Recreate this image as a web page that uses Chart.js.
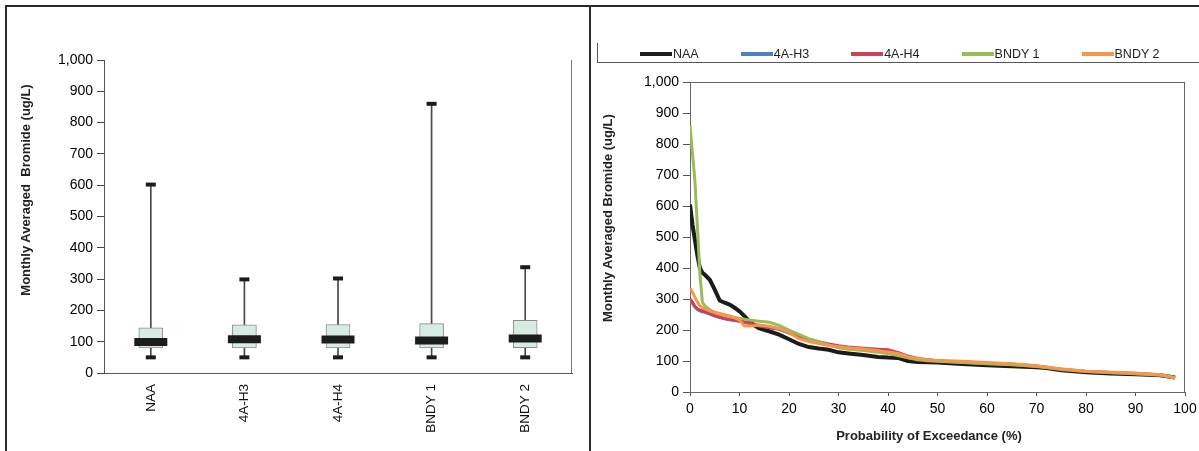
<!DOCTYPE html>
<html>
<head>
<meta charset="utf-8">
<title>Monthly Averaged Bromide</title>
<script src="https://cdn.jsdelivr.net/npm/chart.js@4.4.0/dist/chart.umd.min.js"></script>
<style>
  body { margin: 0; background: #fff; font-family: "Liberation Sans", Arial, sans-serif; }
  #wrap { position: relative; width: 1199px; height: 451px; overflow: hidden; background: #fff; }
  canvas { position: absolute; top: 0; }
  #boxChart { left: 0; }
  #curveChart { left: 592px; }
  .rule { position: absolute; background: #2a2a2a; }
  .title { position: absolute; font-weight: bold; font-size: 13px; color: #222; white-space: pre; }
  .rot { transform: translate(-50%, -50%) rotate(-90deg); }
  .flat { transform: translate(-50%, -50%); }
  #legendFrame { position: absolute; left: 597px; top: 43px; width: 610px; height: 19px;
                 border-left: 1px solid #555; border-bottom: 1px solid #555; }
  #legend { position: absolute; left: 640px; top: 47px; display: flex; gap: 42px; font-size: 12.5px; color: #222; }
  #legend .item { display: flex; align-items: center; }
  #legend .swatch { width: 32px; height: 4px; margin-right: 1px; }
</style>
</head>
<body>
<div id="wrap">
  <canvas id="boxChart" width="588" height="451"></canvas>
  <canvas id="curveChart" width="607" height="451"></canvas>

  <div class="rule" style="left:5px; top:5px; width:1194px; height:2px;"></div>
  <div class="rule" style="left:5px; top:5px; width:2px; height:446px;"></div>
  <div class="rule" style="left:589px; top:5px; width:2px; height:446px;"></div>

  <div class="title rot" style="left:25px; top:190px;">Monthly Averaged  Bromide (ug/L)</div>
  <div class="title rot" style="left:607px; top:218px;">Monthly Averaged Bromide (ug/L)</div>
  <div class="title flat" style="left:929px; top:435px;">Probability of Exceedance (%)</div>

  <div id="legendFrame"></div>
  <div id="legend"></div>
</div>

<script>
// box plot summary per station (ug/L)
const stations = ['NAA', '4A-H3', '4A-H4', 'BNDY 1', 'BNDY 2'];
const boxMin = [50, 50, 50, 50, 50];
const boxQ1 = [80, 80, 80, 80, 81];
const boxMedian = [99, 108, 107, 104, 110];
const boxQ3 = [144, 154, 155, 158, 168];
const boxMax = [602, 299, 302, 860, 338];

// exceedance curves: probability (%) and monthly averaged bromide per station
const exceedance = [0, 0.5, 1, 1.5, 2, 2.5, 3, 4, 5, 6, 7, 8, 9, 10, 11, 12, 13, 14, 16, 18,
  20, 22, 24, 26, 28, 30, 32, 35, 38, 40, 42, 44, 46, 48, 50, 55, 60, 65, 70, 72, 75, 80, 85, 90, 95, 98];
const naa = [605, 540, 490, 440, 400, 385, 378, 362, 330, 295, 288, 282, 272, 260, 245, 228, 215, 205, 196, 185,
  170, 155, 145, 140, 136, 128, 124, 119, 113, 111, 110, 100, 97, 96, 95, 90, 86, 83, 80, 77, 70, 64, 60, 57, 54, 47];
const h3 = [298, 286, 274, 266, 262, 259, 257, 251, 245, 240, 236, 233, 231, 228, 225, 221, 217, 213, 207, 202,
  190, 177, 168, 160, 153, 147, 143, 139, 135, 133, 126, 114, 106, 103, 100, 96, 92, 89, 83, 79, 72, 66, 62, 59, 54, 46];
const h4 = [300, 290, 276, 268, 264, 262, 260, 253, 247, 242, 237, 234, 232, 229, 226, 222, 218, 215, 208, 204,
  192, 180, 170, 162, 155, 149, 145, 141, 138, 136, 128, 116, 108, 104, 101, 97, 93, 90, 84, 80, 73, 66, 63, 60, 55, 46];
const bndy1 = [860, 770, 680, 530, 380, 290, 278, 265, 257, 252, 248, 244, 240, 238, 235, 232, 230, 228, 225, 215,
  200, 186, 172, 162, 152, 143, 138, 134, 128, 124, 118, 110, 104, 101, 99, 95, 91, 88, 82, 79, 74, 67, 63, 59, 55, 47];
const bndy2 = [335, 322, 305, 290, 278, 272, 268, 262, 257, 253, 249, 245, 240, 232, 213, 213, 214, 216, 212, 205,
  192, 172, 163, 156, 150, 146, 143, 139, 133, 129, 124, 114, 108, 104, 102, 99, 95, 91, 85, 81, 74, 67, 64, 61, 56, 45];

Chart.defaults.font.family = '"Liberation Sans", Arial, sans-serif';
Chart.defaults.color = '#000';

// strokes the right (and optionally top) edge of the plot area
const plotFrame = {
  id: 'plotFrame',
  afterDraw(chart, args, opts) {
    const { ctx, chartArea: a } = chart;
    ctx.save();
    ctx.strokeStyle = opts.color || '#666';
    ctx.lineWidth = 1;
    ctx.beginPath();
    if (opts.top) {
      ctx.moveTo(a.left, Math.round(a.top) + 0.5);
      ctx.lineTo(a.right, Math.round(a.top) + 0.5);
    }
    ctx.moveTo(Math.round(a.right) - 0.5, a.top);
    ctx.lineTo(Math.round(a.right) - 0.5, a.bottom);
    ctx.stroke();
    ctx.restore();
  }
};

function markDataset(values, radius, width, order) {
  return {
    type: 'line',
    data: values,
    showLine: false,
    pointStyle: 'line',
    pointRadius: radius,
    pointHoverRadius: radius,
    pointBorderWidth: width,
    pointBorderColor: '#1c1c1c',
    borderColor: '#1c1c1c',
    order: order
  };
}

// keep label overhang from shrinking the plot area sideways
function fixHeight(h) {
  return scale => {
    scale.height = h;
    scale.paddingLeft = 0;
    scale.paddingRight = 0;
  };
}

new Chart(document.getElementById('boxChart'), {
  type: 'bar',
  data: {
    labels: stations,
    datasets: [
      markDataset(boxMedian, 16.5, 8, 1),
      markDataset(boxMax, 5, 4, 2),
      markDataset(boxMin, 5, 4, 2),
      {
        data: stations.map((_, i) => [boxQ1[i], boxQ3[i]]),
        backgroundColor: '#d6ebe2',
        borderColor: '#8c8c8c',
        borderWidth: 1,
        borderSkipped: false,
        barThickness: 24,
        grouped: false,
        order: 3
      },
      {
        data: stations.map((_, i) => [boxMin[i], boxMax[i]]),
        backgroundColor: '#474747',
        barThickness: 1,
        grouped: false,
        order: 4
      }
    ]
  },
  options: {
    responsive: false,
    animation: false,
    locale: 'en-US',
    layout: { autoPadding: false, padding: { left: 0, right: 16, top: 60, bottom: 0 } },
    scales: {
      x: {
        ticks: { minRotation: 90, maxRotation: 90, color: '#111', font: { size: 13.5 }, padding: 3 },
        grid: { display: false },
        border: { color: '#555' },
        afterFit: fixHeight(78)
      },
      y: {
        min: 0,
        max: 1000,
        ticks: { stepSize: 100, font: { size: 14 }, padding: 4 },
        grid: { drawOnChartArea: false, tickLength: 7, color: '#444' },
        border: { color: '#555' },
        afterFit(scale) { scale.width = 104; }
      }
    },
    plugins: {
      legend: { display: false },
      tooltip: { enabled: false },
      plotFrame: { color: '#777', top: false }
    }
  },
  plugins: [plotFrame]
});

const curveSeries = [
  { label: 'NAA', values: naa, color: '#1c1c1c', width: 4, order: 5 },
  { label: '4A-H3', values: h3, color: '#4f81bd', width: 3, order: 4 },
  { label: '4A-H4', values: h4, color: '#d0405a', width: 3, order: 3 },
  { label: 'BNDY 1', values: bndy1, color: '#9bbb59', width: 3, order: 2 },
  { label: 'BNDY 2', values: bndy2, color: '#f79646', width: 3, order: 1 }
];

const curveChart = new Chart(document.getElementById('curveChart'), {
  type: 'line',
  data: {
    datasets: curveSeries.map(s => ({
      label: s.label,
      data: exceedance.map((p, i) => ({ x: p, y: s.values[i] })),
      borderColor: s.color,
      backgroundColor: s.color,
      borderWidth: s.width,
      pointRadius: 0,
      tension: 0,
      order: s.order
    }))
  },
  options: {
    responsive: false,
    animation: false,
    locale: 'en-US',
    layout: { autoPadding: false, padding: { left: 0, right: 14, top: 82, bottom: 0 } },
    scales: {
      x: {
        type: 'linear',
        min: 0,
        max: 100,
        ticks: { stepSize: 10, font: { size: 14 }, padding: 5 },
        grid: { drawOnChartArea: false, tickLength: 4, color: '#555' },
        border: { color: '#666' },
        afterFit: fixHeight(59)
      },
      y: {
        min: 0,
        max: 1000,
        ticks: { stepSize: 100, font: { size: 14 }, padding: 4 },
        grid: { drawOnChartArea: false, tickLength: 7, color: '#555' },
        border: { color: '#666' },
        afterFit(scale) { scale.width = 98; }
      }
    },
    plugins: {
      legend: { display: false },
      tooltip: { enabled: false },
      plotFrame: { color: '#666', top: true }
    }
  },
  plugins: [plotFrame]
});

// legend row from the chart's datasets
const legendEl = document.getElementById('legend');
curveChart.data.datasets.forEach(ds => {
  const item = document.createElement('div');
  item.className = 'item';
  const swatch = document.createElement('span');
  swatch.className = 'swatch';
  swatch.style.background = ds.borderColor;
  const text = document.createElement('span');
  text.textContent = ds.label;
  item.appendChild(swatch);
  item.appendChild(text);
  legendEl.appendChild(item);
});
</script>
</body>
</html>
